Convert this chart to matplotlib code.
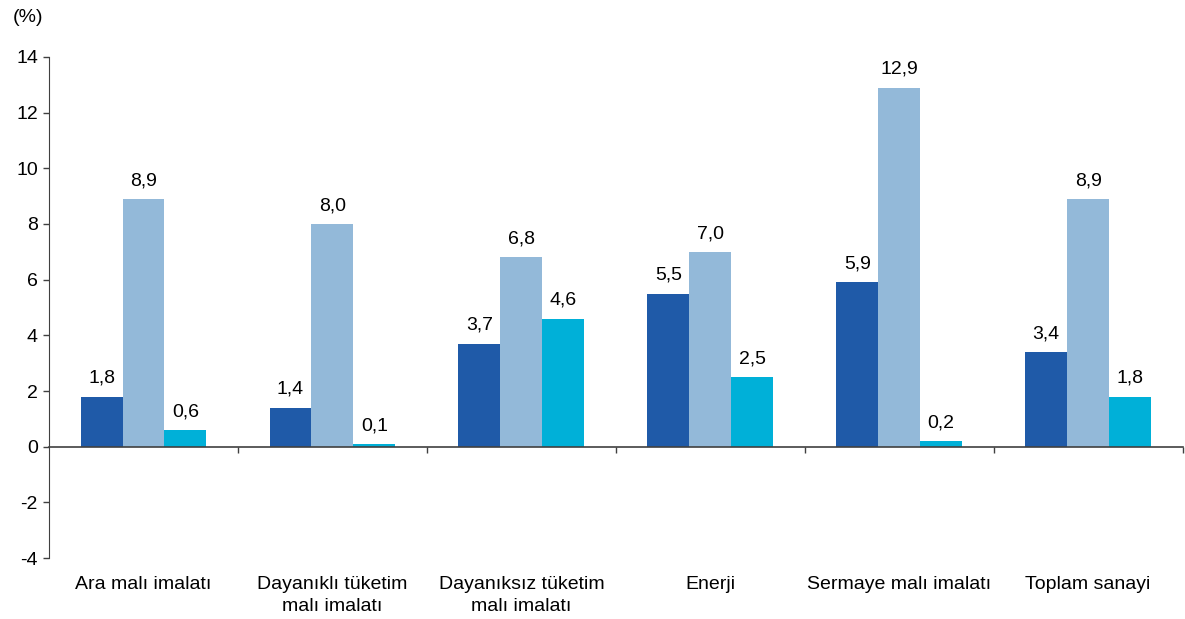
import matplotlib
matplotlib.use("Agg")
import matplotlib.pyplot as plt
import numpy as np

categories = ["Ara malı imalatı", "Dayanıklı tüketim\nmalı imalatı", "Dayanıksız tüketim\nmalı imalatı",
              "Enerji", "Sermaye malı imalatı", "Toplam sanayi"]
series1 = [1.8, 1.4, 3.7, 5.5, 5.9, 3.4]
series2 = [8.9, 8.0, 6.8, 7.0, 12.9, 8.9]
series3 = [0.6, 0.1, 4.6, 2.5, 0.2, 1.8]
yticks = [-4, -2, 0, 2, 4, 6, 8, 10, 12, 14]

colors = ["#1F5AA8", "#93B9D9", "#00B0D8"]

plt.rcParams['font.family'] = ['Liberation Sans', 'DejaVu Sans']
FS = 14

fig = plt.figure(figsize=(11.85, 6.19), dpi=100)
ax = fig.add_axes([0.0414, 0.0985, 0.9566, 0.8095])

x = np.arange(len(categories))
w = 0.222
for i, (vals, c) in enumerate(zip([series1, series2, series3], colors)):
    pos = x + (i - 1) * w
    bars = ax.bar(pos, vals, width=w, color=c, zorder=2)
    for b, v in zip(bars, vals):
        ax.annotate(f"{v:.1f}".replace(".", ","), (b.get_x() + b.get_width() / 2, v),
                    xytext=(0, 7), textcoords="offset points", ha="center", va="bottom",
                    fontsize=FS, color="#000000")

ax.set_xlim(-0.5, len(categories) - 0.5)
ax.set_ylim(-4, 14)
ax.set_yticks(yticks)
ax.set_yticklabels([str(t) for t in yticks], fontsize=FS)
ax.tick_params(axis='y', direction='out', length=4, width=1, color="#404040", pad=4)

for s in ["top", "right"]:
    ax.spines[s].set_visible(False)
ax.spines["left"].set_color("#404040")
ax.spines["bottom"].set_position(("data", 0))
ax.spines["bottom"].set_color("#404040")
ax.spines["bottom"].set_linewidth(1.2)
ax.set_xticks(x + 0.5, minor=False)
ax.set_xticklabels([])
ax.tick_params(axis='x', which='major', direction='out', length=4, width=1, color="#404040")

sec = ax.secondary_xaxis(0)
sec.set_xticks(x)
sec.set_xticklabels(categories, fontsize=FS, linespacing=1.35)
sec.tick_params(axis='x', length=0, pad=13)
sec.spines["bottom"].set_visible(False)

fig.text(0.011, 0.972, "(%)", fontsize=FS, ha="left", va="center")

fig.savefig("out.png", dpi=100)
